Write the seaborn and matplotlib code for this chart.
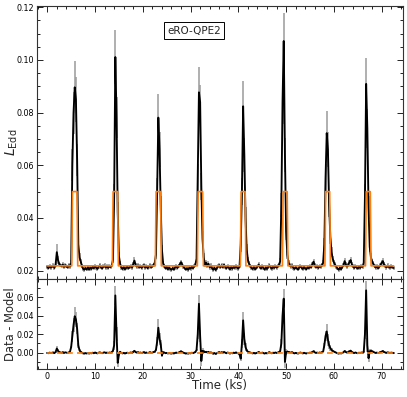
import numpy as np
import matplotlib
matplotlib.use("Agg")
import matplotlib.pyplot as plt
import seaborn as sns
import pandas as pd
from matplotlib.ticker import MultipleLocator, FormatStrFormatter

# ---------------- data (time bins of 0.25 ks starting at 0 ks) ----------------
bin_ks = 0.25

# observed L_Edd, in units of 1e-3 (8 bins = 2 ks per row)
flux_milli = [
    21.4, 20.9, 21.7, 21.1, 21.5, 21.9, 21.0, 22.4,
    27.0, 24.0, 22.5, 22.0, 21.7, 22.3, 21.4, 22.1,
    21.6, 21.2, 22.0, 21.5, 23.0, 60.0, 80.0, 89.6,
    85.0, 62.0, 30.0, 25.0, 23.5, 21.8, 20.7, 20.3,
    21.0, 20.4, 21.2, 20.4, 21.1, 20.6, 21.5, 20.9,
    21.7, 21.1, 20.6, 21.5, 22.0, 21.2, 20.8, 21.6,
    21.9, 21.1, 21.6, 21.0, 21.7, 21.3, 22.1, 24.0,
    48.0, 101.1, 78.0, 42.0, 25.5, 22.6, 21.2, 20.6,
    21.3, 20.5, 21.0, 21.5, 20.8, 21.4, 21.8, 21.1,
    22.4, 23.8, 22.1, 21.5, 22.0, 21.2, 21.7, 21.0,
    21.6, 22.1, 21.1, 21.7, 20.9, 21.5, 22.0, 21.2,
    21.6, 22.2, 23.0, 26.0, 50.0, 78.1, 66.0, 44.0,
    28.0, 22.8, 21.7, 20.8, 21.3, 20.5, 21.1, 20.6,
    20.3, 21.0, 20.4, 21.2, 21.6, 21.0, 21.8, 22.4,
    23.2, 22.3, 21.5, 20.9, 20.4, 20.9, 20.3, 21.1,
    20.7, 21.5, 20.9, 21.6, 22.2, 24.5, 55.0, 87.7,
    84.0, 52.0, 32.0, 25.0, 22.3, 23.0, 21.7, 22.6,
    21.2, 21.9, 20.9, 20.3, 21.1, 20.2, 20.9, 21.6,
    22.1, 21.2, 22.0, 21.3, 22.2, 21.4, 20.8, 21.7,
    21.1, 20.5, 21.3, 20.7, 21.5, 21.0, 21.8, 21.1,
    20.7, 21.8, 30.0, 50.0, 82.4, 64.0, 40.0, 28.0,
    24.0, 22.6, 21.7, 21.0, 20.6, 21.3, 20.5, 21.0,
    21.5, 22.3, 21.3, 20.8, 21.6, 21.0, 20.4, 21.2,
    20.6, 21.4, 22.0, 21.2, 20.7, 21.5, 21.0, 21.7,
    21.1, 21.6, 22.2, 23.5, 45.0, 84.0, 107.2, 64.0,
    35.0, 26.0, 23.0, 22.1, 21.5, 22.0, 21.1, 20.6,
    21.3, 20.8, 20.4, 21.2, 21.7, 21.0, 20.6, 21.4,
    20.8, 20.5, 21.3, 20.9, 21.6, 21.2, 22.5, 23.4,
    21.9, 21.3, 21.6, 21.0, 21.7, 21.4, 22.1, 23.0,
    30.0, 55.0, 72.2, 66.0, 45.0, 33.0, 27.0, 24.5,
    23.1, 22.2, 21.5, 20.8, 20.3, 21.1, 20.5, 21.3,
    22.0, 23.6, 22.3, 21.5, 22.2, 23.2, 24.0, 22.4,
    21.6, 21.0, 21.7, 21.1, 20.8, 21.5, 21.0, 21.7,
    21.4, 23.0, 48.0, 90.9, 74.0, 44.0, 29.0, 25.0,
    23.5, 22.6, 21.7, 21.1, 21.6, 20.9, 21.5, 22.1,
    23.0, 23.6, 22.3, 21.7, 21.2, 21.9, 21.4, 21.1,
    21.6, 21.2, 21.0,
]

# 1-sigma uncertainties, units of 1e-3
flux_err_milli = [
    0.8, 0.7, 0.8, 0.8, 0.7, 0.8, 0.8, 0.9,
    3.0, 1.5, 0.9, 0.8, 0.8, 0.8, 0.7, 0.8,
    0.8, 0.7, 0.8, 0.8, 1.0, 6.0, 8.0, 9.9,
    8.5, 6.0, 3.0, 1.5, 1.0, 0.8, 0.7, 0.7,
    0.8, 0.7, 0.8, 0.7, 0.8, 0.7, 0.8, 0.8,
    0.8, 0.8, 0.7, 0.8, 0.8, 0.7, 0.7, 0.8,
    0.8, 0.7, 0.8, 0.7, 0.8, 0.8, 0.8, 1.0,
    4.8, 10.1, 7.8, 4.2, 1.5, 0.9, 0.8, 0.7,
    0.8, 0.7, 0.7, 0.8, 0.7, 0.8, 0.8, 0.7,
    0.9, 1.2, 0.9, 0.8, 0.8, 0.7, 0.8, 0.7,
    0.8, 0.8, 0.7, 0.8, 0.7, 0.8, 0.8, 0.7,
    0.8, 0.8, 0.9, 1.5, 5.0, 9.0, 6.6, 4.4,
    1.8, 1.0, 0.8, 0.7, 0.8, 0.7, 0.7, 0.7,
    0.7, 0.7, 0.7, 0.8, 0.8, 0.7, 0.8, 0.9,
    1.0, 0.9, 0.8, 0.7, 0.7, 0.7, 0.7, 0.8,
    0.7, 0.8, 0.7, 0.8, 0.8, 1.5, 5.5, 9.8,
    6.5, 5.2, 3.2, 1.5, 0.9, 1.0, 0.8, 0.9,
    0.8, 0.8, 0.7, 0.7, 0.7, 0.7, 0.7, 0.8,
    0.8, 0.7, 0.8, 0.7, 0.8, 0.8, 0.7, 0.8,
    0.7, 0.7, 0.8, 0.7, 0.8, 0.7, 0.8, 0.7,
    0.7, 0.8, 3.0, 5.0, 9.5, 6.4, 4.0, 2.0,
    1.2, 0.9, 0.8, 0.7, 0.7, 0.8, 0.7, 0.7,
    0.8, 0.9, 0.8, 0.7, 0.8, 0.7, 0.7, 0.8,
    0.7, 0.8, 0.8, 0.8, 0.7, 0.8, 0.7, 0.8,
    0.7, 0.8, 0.8, 1.2, 4.5, 8.4, 10.5, 6.4,
    3.5, 1.5, 1.0, 0.8, 0.8, 0.8, 0.7, 0.7,
    0.8, 0.7, 0.7, 0.8, 0.8, 0.7, 0.7, 0.8,
    0.7, 0.7, 0.8, 0.7, 0.8, 0.7, 0.9, 1.1,
    0.8, 0.8, 0.8, 0.7, 0.8, 0.8, 0.8, 0.9,
    2.5, 5.5, 8.5, 6.6, 4.5, 3.0, 2.0, 1.2,
    1.0, 0.9, 0.8, 0.7, 0.7, 0.7, 0.7, 0.8,
    0.8, 1.1, 0.9, 0.8, 0.8, 1.0, 1.2, 0.9,
    0.8, 0.7, 0.8, 0.7, 0.7, 0.8, 0.7, 0.8,
    0.8, 0.9, 4.8, 10.0, 7.4, 4.4, 2.0, 1.5,
    1.0, 0.9, 0.8, 0.7, 0.8, 0.7, 0.8, 0.8,
    0.9, 1.1, 0.9, 0.8, 0.8, 0.8, 0.8, 0.7,
    0.8, 0.7, 0.7,
]

# data - model residuals, units of 1e-3
resid_milli = [
    -0.3, -0.6, 0.1, -0.4, -0.1, 0.3, -0.5, 0.8,
    4.5, 2.0, 0.6, 0.3, -0.2, 0.5, -0.3, 0.4,
    0.0, -0.3, 0.4, 1.0, 6.0, 18.0, 30.0, 39.5,
    36.0, 26.0, 8.0, 2.5, 1.0, 0.0, -0.8, -1.0,
    -0.5, -0.9, -0.3, -1.0, -0.4, -0.7, 0.0, -0.6,
    0.2, -0.3, -0.8, 0.0, 0.4, -0.2, -0.6, 0.1,
    0.4, -0.3, 0.1, -0.4, 0.2, -0.1, 0.5, 2.0,
    8.0, 62.0, 20.0, -11.0, -2.0, 1.0, -0.3, -0.8,
    -0.2, -0.9, -0.5, 0.0, -0.6, -0.1, 0.3, -0.3,
    0.8, 2.0, 0.6, 0.0, 0.5, -0.2, 0.2, -0.4,
    0.1, 0.6, -0.3, 0.2, -0.5, 0.0, 0.5, -0.2,
    0.1, 0.7, 1.0, 3.0, 12.0, 27.0, 15.0, 9.0,
    -3.0, 0.5, 0.2, -0.6, -0.2, -0.9, -0.4, -0.8,
    -1.0, -0.5, -0.9, -0.3, 0.1, -0.4, 0.2, 0.8,
    1.4, 0.7, 0.0, -0.5, -1.0, -0.6, -1.1, -0.4,
    -0.8, 0.0, -0.5, 0.1, 0.6, 3.0, 20.0, 53.0,
    18.0, -9.0, 2.0, 1.5, 0.5, 1.0, 0.2, 0.9,
    -0.3, 0.4, -0.5, -1.2, -0.4, -1.3, -0.6, 0.1,
    0.6, -0.2, 0.5, -0.1, 0.7, 0.0, -0.6, 0.2,
    -0.3, -1.0, -0.2, -0.7, 0.0, -0.4, 0.3, -0.3,
    -0.8, -2.0, -6.5, 10.0, 35.0, 15.0, 6.0, 2.5,
    1.0, 0.5, 0.2, -0.4, -0.8, -0.2, -0.9, -0.5,
    0.0, 0.7, -0.1, -0.6, 0.1, -0.4, -1.0, -0.3,
    -0.8, -0.1, 0.5, -0.2, -0.7, 0.0, -0.4, 0.2,
    -0.3, 0.1, 0.6, 1.5, 10.0, 40.0, 58.5, -10.0,
    0.5, 1.0, 0.8, 0.4, 0.0, 0.5, -0.3, -0.8,
    -0.2, -0.6, -1.0, -0.3, 0.2, -0.4, -0.8, -0.1,
    -0.6, -0.9, -0.2, -0.5, 0.1, -0.3, 0.8, 1.6,
    0.3, -0.2, 0.1, -0.4, 0.2, -0.1, 0.5, 1.2,
    8.0, 18.0, 23.0, 14.0, 8.0, 5.0, 3.0, 2.0,
    1.2, 0.5, 0.0, -0.6, -1.1, -0.4, -0.9, -0.2,
    0.4, 1.8, 0.7, 0.0, 0.6, 1.4, 2.2, 0.8,
    0.1, -0.4, 0.2, -0.3, -0.6, 0.0, -0.4, 0.2,
    -0.1, 1.0, 20.0, 67.5, 8.0, -6.0, 1.5, 2.0,
    1.5, 1.0, 0.2, -0.3, 0.1, -0.5, 0.0, 0.5,
    1.2, 1.8, 0.7, 0.2, -0.2, 0.4, 0.0, -0.3,
    0.1, -0.2, -0.4,
]

# model: quiescent level with flat-topped eruptions (units 1e-3, times in ks)
model_base_milli = 21.8
model_peak_milli = 50.0
pulse_start_ks = [5.2, 13.7, 22.7, 31.5, 40.5, 49.3, 58.2, 66.7]
pulse_end_ks = [6.3, 14.8, 23.8, 32.6, 41.5, 50.3, 59.2, 67.7]

source_name = "eRO-QPE2"
x_label = "Time (ks)"
y_label_top = r"$L_{\rm Edd}$"
y_label_bottom = "Data - Model"

# ---------------- build tables ----------------
t = np.arange(len(flux_milli)) * bin_ks
df = pd.DataFrame({
    "time": t,
    "flux": np.array(flux_milli) * 1e-3,
    "err": np.array(flux_err_milli) * 1e-3,
    "resid": np.array(resid_milli) * 1e-3,
})

ramp = 0.08
m_t = [t[0]]
m_v = [model_base_milli]
for s, e in zip(pulse_start_ks, pulse_end_ks):
    m_t += [s - ramp, s + ramp, e - ramp, e + ramp]
    m_v += [model_base_milli, model_peak_milli, model_peak_milli, model_base_milli]
m_t.append(t[-1])
m_v.append(model_base_milli)
model_df = pd.DataFrame({"time": m_t, "model": np.array(m_v) * 1e-3})
zero_df = pd.DataFrame({"time": [t[0], t[-1]], "zero": [0.0, 0.0]})

# ---------------- plot ----------------
sns.set_style("ticks")
plt.rcParams["font.family"] = ["DejaVu Sans"]

fig = plt.figure(figsize=(4.07, 3.97), dpi=100)
ax1 = fig.add_axes([0.0909, 0.2972, 0.8985, 0.6877])
ax2 = fig.add_axes([0.0909, 0.0705, 0.8985, 0.2267], sharex=ax1)

orange = "#ff7f0e"
grey = "#9a9a9a"

# top panel
ax1.vlines(df["time"], df["flux"] - df["err"], df["flux"] + df["err"],
           color=grey, lw=1.1, zorder=1)
sns.lineplot(data=df, x="time", y="flux", ax=ax1, color="black", lw=1.35,
             estimator=None, sort=False, zorder=2)
sns.lineplot(data=model_df, x="time", y="model", ax=ax1, color=orange, lw=1.2,
             estimator=None, sort=False, zorder=3)

# bottom panel
ax2.vlines(df["time"], df["resid"] - df["err"], df["resid"] + df["err"],
           color=grey, lw=1.1, zorder=1)
sns.lineplot(data=df, x="time", y="resid", ax=ax2, color="black", lw=1.35,
             estimator=None, sort=False, zorder=2)
sns.lineplot(data=zero_df, x="time", y="zero", ax=ax2, color=orange, lw=1.2,
             linestyle=(0, (3.5, 2.5)), estimator=None, sort=False, zorder=3)

ax1.set_xlim(-2.15, 74.4)
ax1.set_ylim(0.0168, 0.1205)
ax2.set_ylim(-0.0177, 0.0798)

ax1.yaxis.set_major_locator(MultipleLocator(0.02))
ax1.yaxis.set_minor_locator(MultipleLocator(0.005))
ax2.yaxis.set_major_locator(MultipleLocator(0.02))
ax2.yaxis.set_minor_locator(MultipleLocator(0.01))
ax1.xaxis.set_major_locator(MultipleLocator(10))
ax1.xaxis.set_minor_locator(MultipleLocator(2))
ax1.yaxis.set_major_formatter(FormatStrFormatter("%.2f"))
ax2.yaxis.set_major_formatter(FormatStrFormatter("%.2f"))

for ax in (ax1, ax2):
    ax.tick_params(which="both", direction="in", top=True, right=True,
                   labelsize=5.8, width=0.6, pad=2.0, colors="black")
    ax.tick_params(which="major", length=4)
    ax.tick_params(which="minor", length=2.2)
    for sp in ax.spines.values():
        sp.set_linewidth(0.8)
        sp.set_color("#333333")
    ax.set_xlabel("")
    ax.set_ylabel("")

ax1.tick_params(labelbottom=False)

ax1.set_ylabel(y_label_top, fontsize=10)
ax1.yaxis.set_label_coords(-0.046, 0.5)
ax2.set_ylabel(y_label_bottom, fontsize=8.3)
ax2.yaxis.set_label_coords(-0.056, 0.5)
ax2.set_xlabel(x_label, fontsize=8.5)
ax2.xaxis.set_label_coords(0.498, -0.115)

ax1.text(0.43, 0.91, source_name, transform=ax1.transAxes, ha="center",
         va="center", fontsize=7.5,
         bbox=dict(boxstyle="square,pad=0.3", fc="white", ec="black", lw=0.7))

fig.savefig("out.png", dpi=100)
